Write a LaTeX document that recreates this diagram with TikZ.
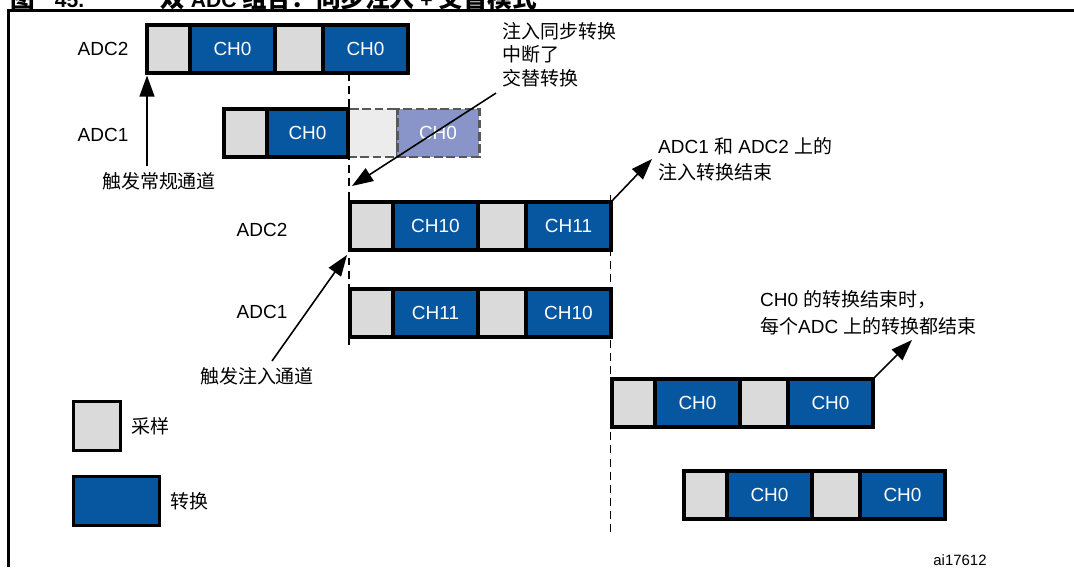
\documentclass[tikz,border=0pt]{standalone}
\usepackage{fontspec}
\setmainfont{Liberation Sans}
\newfontfamily\cjk{Noto Sans CJK SC}
\usepackage{xcolor}
\usepackage{tikz}
\usetikzlibrary{positioning,arrows.meta}
\definecolor{ConvBlue}{RGB}{6, 86, 160}
\definecolor{SampleGray}{RGB}{218, 218, 218}
\definecolor{GhostGray}{RGB}{236, 236, 236}
\definecolor{GhostBlue}{RGB}{137, 149, 200}
\definecolor{GhostEdge}{RGB}{88, 88, 88}
\tikzset{
  cell/.style={draw=black, line width=2pt, inner sep=0pt, outer sep=0pt, minimum height=0.96cm},
  smp/.style={cell, fill=SampleGray, minimum width=#1},
  smp/.default=0.86cm,
  cnv/.style={cell, fill=ConvBlue, text=white, font=\fontsize{10.8}{13}\selectfont, minimum width=#1},
  cnv/.default=1.70cm,
  ghost/.style={draw=GhostEdge, line width=1.7pt, dash pattern=on 5pt off 2pt, inner sep=0pt, outer sep=0pt, minimum height=0.96cm},
  adclbl/.style={font=\fontsize{10.8}{13}\selectfont},
  note/.style={font=\fontsize{10.8}{13.4}\selectfont, align=left},
  cnote/.style={font=\cjk\fontsize{10.8}{13.4}\selectfont, align=left},
  arr/.style={line width=0.9pt, -{Triangle[length=12pt, width=8.5pt]}},
  guide/.style={line width=1pt, dash pattern=on 4.5pt off 3pt}
}

\begin{document}
\begin{tikzpicture}
\useasboundingbox (0,0) rectangle (21.48,11.34);
% title, cut off at the top of the page
\begin{scope}
\clip (0,0) rectangle (21.48,11.34);
\node[anchor=base west, inner sep=0pt, font=\fontsize{12}{14}\selectfont\bfseries] (ttlnum) at (0.2,11.18) {{\cjk\fontsize{14}{16}\selectfont 图}\hspace{0.4cm}45.};
\node[anchor=base west, inner sep=0pt, font=\fontsize{12}{14}\selectfont\bfseries] (ttltxt) at (3.2,11.18) {{\cjk\fontsize{14}{16}\selectfont 双} ADC {\cjk\fontsize{14}{16}\selectfont 组合：同步注入} + {\cjk\fontsize{14}{16}\selectfont 交替模式}};
\end{scope}
\draw[line width=1.4pt] (0.17,0) -- (0.17,11.13) -- (21.48,11.13);

% guides
\coordinate (g1end) at (6.98,4.44);
\coordinate (g2top) at (12.21,7.44);
\coordinate (g2end) at (12.21,0.64);

% regular channels, ADC2
\node[smp, anchor=north west] (a2s1) at (2.94,10.84) {};
\node[cnv, right=0pt of a2s1] (a2c1) {CH0};
\node[smp=0.96cm, right=0pt of a2c1] (a2s2) {};
\node[cnv, right=0pt of a2s2] (a2c2) {CH0};
\node[adclbl] (a2lbl) at (2.06,10.36) {ADC2};
\draw[guide] (a2c2.south -| g1end) -- (g1end);
\draw[guide] (g2top) -- (g2end);

% regular channels, ADC1 (interrupted)
\node[ghost, fill=GhostGray, minimum width=0.98cm, anchor=north west] (a1g1) at (6.96,9.16) {};
\node[ghost, fill=GhostBlue, minimum width=1.64cm, right=0pt of a1g1, text=white, font=\fontsize{10.8}{13}\selectfont] (a1g2) {CH0};
\node[smp, anchor=north west] (a1s1) at (4.48,9.16) {};
\node[cnv=1.62cm, right=0pt of a1s1] (a1c1) {CH0};
\node[adclbl] (a1lbl) at (2.06,8.64) {ADC1};

% injected channels
\node[smp, anchor=north west] (b2s1) at (7.00,7.30) {};
\node[cnv, right=0pt of b2s1] (b2c1) {CH10};
\node[smp=0.96cm, right=0pt of b2c1] (b2s2) {};
\node[cnv, right=0pt of b2s2] (b2c2) {CH11};
\node[adclbl] (b2lbl) at (5.24,6.74) {ADC2};

\node[smp, anchor=north west] (b1s1) at (7.00,5.56) {};
\node[cnv, right=0pt of b1s1] (b1c1) {CH11};
\node[smp=0.96cm, right=0pt of b1c1] (b1s2) {};
\node[cnv, right=0pt of b1s2] (b1c2) {CH10};
\node[adclbl] (b1lbl) at (5.24,5.10) {ADC1};

% regular channels resumed
\node[smp, anchor=north west] (d3s1) at (12.24,3.76) {};
\node[cnv, right=0pt of d3s1] (d3c1) {CH0};
\node[smp=0.96cm, right=0pt of d3c1] (d3s2) {};
\node[cnv, right=0pt of d3s2] (d3c2) {CH0};

\node[smp, anchor=north west] (d4s1) at (13.68,1.92) {};
\node[cnv, right=0pt of d4s1] (d4c1) {CH0};
\node[smp=0.96cm, right=0pt of d4c1] (d4s2) {};
\node[cnv, right=0pt of d4s2] (d4c2) {CH0};

% notes and arrows
\node[cnote] (trgreg) at (3.18,7.72) {触发常规通道};
\draw[arr] (trgreg.north -| a2s1.south west) -- ([yshift=-0.05cm]a2s1.south west);

\coordinate (intrtip) at (7.04,7.62);
\node[cnote, anchor=north west] (intr) at (9.92,11.02) {注入同步转换\\中断了\\交替转换};
\draw[arr] (intr.south west) -- (intrtip);

\node[note, anchor=west] (injend) at (13.04,8.16) {ADC1 {\cjk 和} ADC2 {\cjk 上的}\\[1.2pt]{\cjk 注入转换结束}};
\draw[arr] (b2c2.north east) -- (injend.west);

\node[cnote] (trginj) at (5.14,3.82) {触发注入通道};
\draw[arr] ([xshift=0.3cm]trginj.north) -- ([shift={(-0.06,-0.1)}]b2s1.south west);

\coordinate (eoctip) at (18.24,4.54);
\node[note, anchor=west] (eoc) at (15.08,5.08) {CH0 {\cjk 的转换结束时，}\\[2.2pt]{\cjk 每个}ADC {\cjk 上的转换都结束}};
\draw[arr] (d3c2.north east) -- (eoctip);

% legend
\node[smp=0.94cm, minimum height=0.98cm] (lgsmp) at (1.94,2.82) {};
\node[cnote, right=0.1cm of lgsmp] (lgsmptxt) {采样};
\node[cnv=1.72cm, minimum height=0.98cm] (lgcnv) at (2.33,1.32) {};
\node[cnote, right=0.1cm of lgcnv] (lgcnvtxt) {转换};

\node[anchor=base, inner sep=0pt, font=\fontsize{8.5}{10}\selectfont] (figid) at (19.20,0.03) {ai17612};
\end{tikzpicture}
\end{document}
